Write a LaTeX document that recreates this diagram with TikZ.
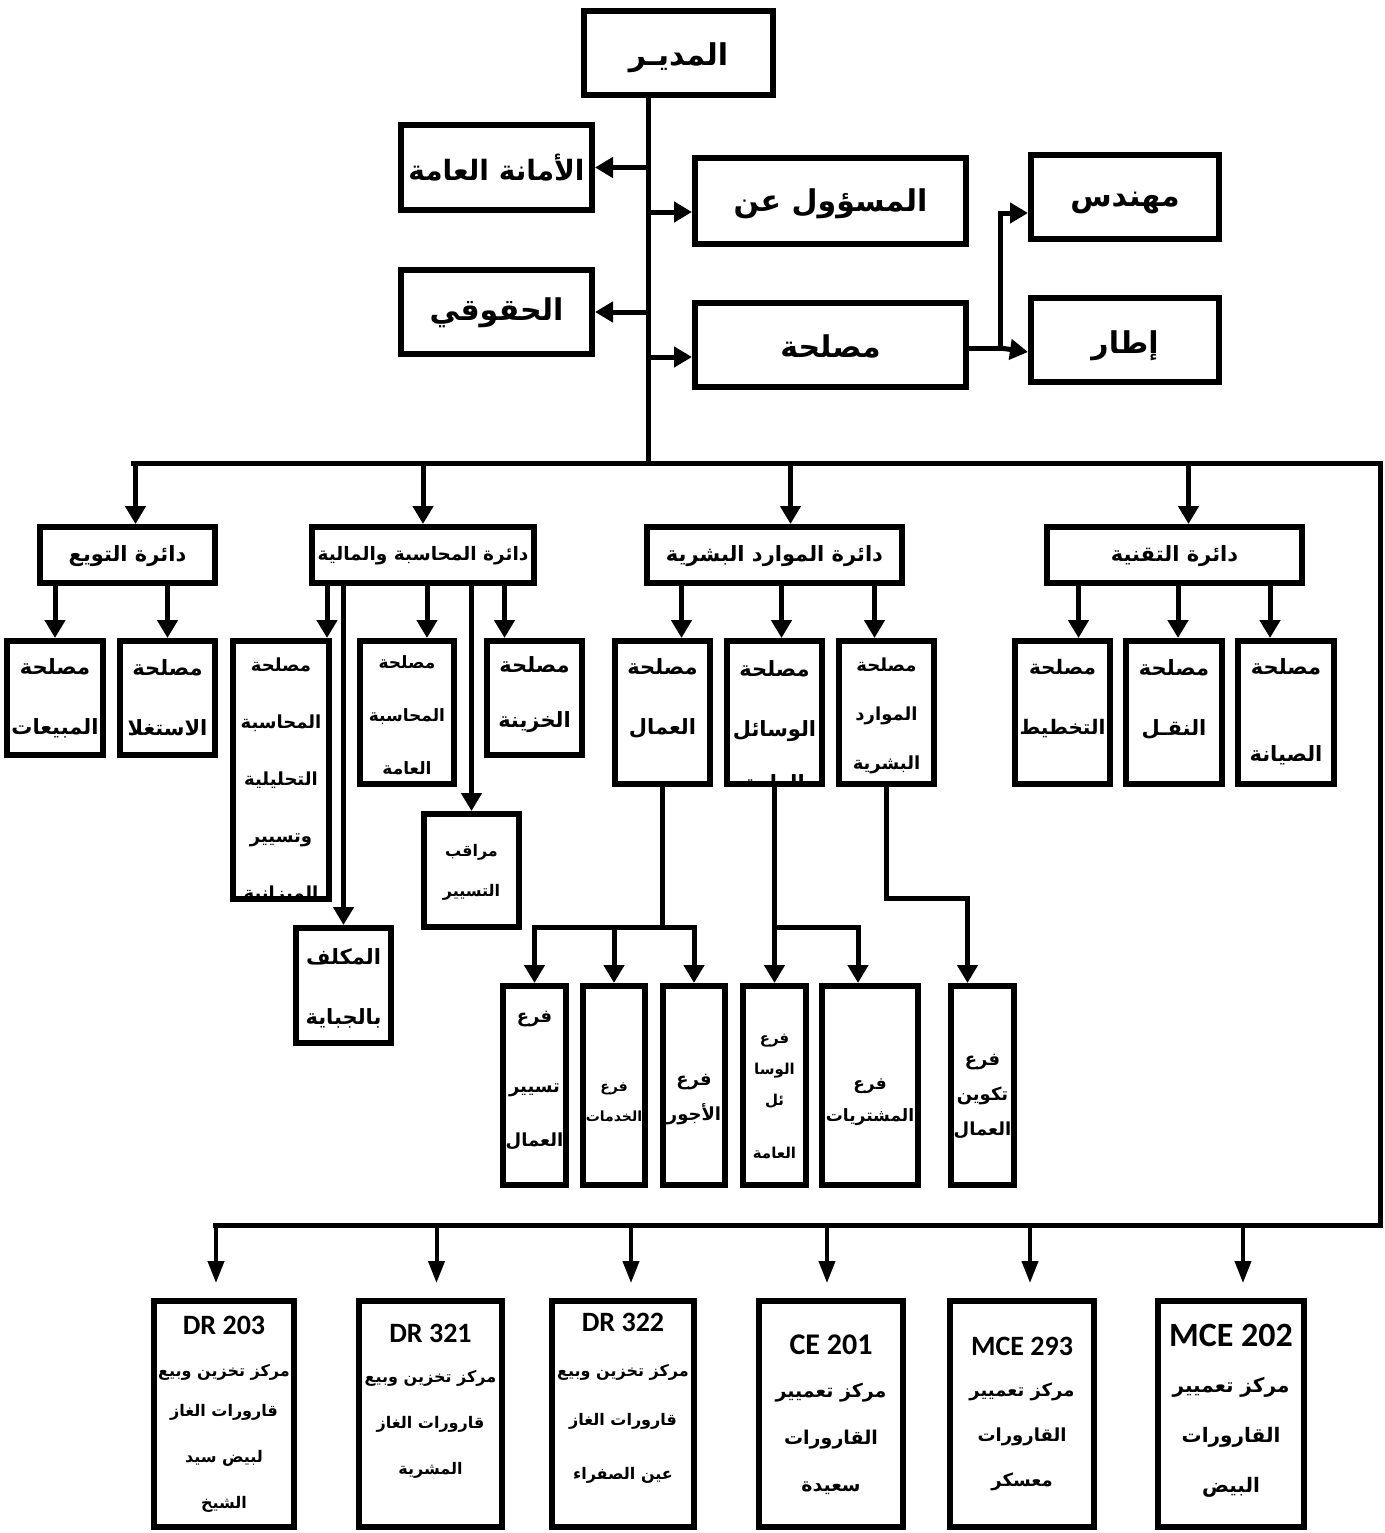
\documentclass[tikz,border=0pt]{standalone}
\usepackage{fontspec}
\usetikzlibrary{arrows.meta,calc}
\TeXXeTstate=1
\newfontfamily\arabicfont[Script=Arabic]{DejaVu Sans}
\newfontfamily\latinfont{Carlito}
\newcommand\rl[1]{\beginR#1\endR}
\newcommand\lt[2]{{\latinfont\bfseries\fontsize{#1}{#1}\selectfont #2}}
\tikzset{
 box/.style={draw, line width=6pt, fill=white, inner sep=0pt},
 txt/.style={align=center, inner sep=0pt, font=\arabicfont\bfseries},
 fs/.style 2 args={font=\arabicfont\bfseries\fontsize{#1}{#2}\selectfont},
 ln/.style={line width=5pt, line cap=rect},
 arr/.style={line width=5pt, line cap=rect, -{Triangle[length=18pt,width=20pt]}},
 thinarr/.style={line width=4pt, line cap=rect, -{Triangle[length=22pt,width=16pt]}, shorten >=15pt},
}
\newcommand\mkbox[8]{%
 \node[box,minimum width={#4-#2-6},minimum height={#5-#3-6}] (#1) at ({(#2+#4)/2},{(#3+#5)/2}) {};
 \node[txt,#7] (#1t) at ({(#2+#4)/2},#6) {#8};}
\newcommand\mkboxc[8]{%
 \node[box,minimum width={#4-#2-6},minimum height={#5-#3-6}] (#1) at ({(#2+#4)/2},{(#3+#5)/2}) {};
 \begin{scope}\clip ({#2+3},{#3+3}) rectangle ({#4-3},{#5-3});
 \node[txt,#7] (#1t) at ({(#2+#4)/2},#6) {#8};\end{scope}}
\begin{document}
\begin{tikzpicture}[x=1pt,y=-1pt]
\useasboundingbox[fill=white] (0,0) rectangle (1384,1533);
% ---------- top ----------
\mkbox{dir}{581}{8}{776}{98}{58}{fs={30}{36}}{\rl{المديـر}}
\mkbox{amana}{398}{122}{595}{213}{168}{fs={28}{34}}{\rl{الأمانة العامة}}
\mkbox{masoul}{692}{155}{969}{247}{204}{fs={30}{36}}{\rl{المسؤول عن}}
\mkbox{huquq}{398}{267}{595}{357}{313}{fs={30}{36}}{\rl{الحقوقي}}
\mkbox{maslaha}{692}{300}{969}{390}{346}{fs={30}{36}}{\rl{مصلحة}}
\mkbox{muhandis}{1028}{152}{1222}{242}{203}{fs={30}{36}}{\rl{مهندس}}
\mkbox{itar}{1028}{295}{1222}{385}{346}{fs={30}{36}}{\rl{إطار}}
% ---------- departments ----------
\mkbox{tawzi}{37}{524}{218}{586}{556}{fs={21}{26}}{\rl{دائرة التويع}}
\mkbox{muhasaba}{309}{524}{537}{586}{556}{fs={18.5}{26}}{\rl{دائرة المحاسبة والمالية}}
\mkbox{mawarid}{644}{524}{905}{586}{556}{fs={21}{26}}{\rl{دائرة الموارد البشرية}}
\mkbox{taqniya}{1044}{524}{1305}{586}{556}{fs={21}{26}}{\rl{دائرة التقنية}}
% ---------- services ----------
\mkbox{mabiat}{4}{638}{106}{758}{698}{fs={21}{60}}{\rl{مصلحة}\\\rl{المبيعات}}
\mkbox{istighla}{117}{638}{218}{758}{698}{fs={21}{60}}{\rl{مصلحة}\\\rl{الاستغلا}}
\mkboxc{tahlil}{230}{638}{332}{902}{781}{fs={18}{57}}{\rl{مصلحة}\\\rl{المحاسبة}\\\rl{التحليلية}\\\rl{وتسيير}\\\rl{الميزانية}}
\mkbox{amma}{357}{638}{457}{787}{715}{fs={17}{53}}{\rl{مصلحة}\\\rl{المحاسبة}\\\rl{العامة}}
\mkbox{khazina}{484}{638}{585}{758}{695}{fs={21}{55}}{\rl{مصلحة}\\\rl{الخزينة}}
\mkbox{muraqib}{421}{811}{522}{930}{872}{fs={16}{40}}{\rl{مراقب}\\\rl{التسيير}}
\mkbox{mukallaf}{293}{925}{394}{1046}{988}{fs={21}{60}}{\rl{المكلف}\\\rl{بالجباية}}
\mkbox{ummal}{612}{638}{713}{787}{698}{fs={21}{60}}{\rl{مصلحة}\\\rl{العمال}}
\mkboxc{wasail}{724}{638}{825}{787}{726}{fs={21}{60}}{\rl{مصلحة}\\\rl{الوسائل}\\[-6pt]\rl{العامة}}
\mkbox{bashari}{836}{638}{937}{787}{716}{fs={18}{49}}{\rl{مصلحة}\\\rl{الموارد}\\\rl{البشرية}}
\mkbox{takhtit}{1012}{638}{1113}{787}{699}{fs={20}{60}}{\rl{مصلحة}\\\rl{التخطيط}}
\mkbox{naql}{1123}{638}{1225}{787}{699}{fs={21}{60}}{\rl{مصلحة}\\\rl{النقـل}}
\mkbox{siyana}{1235}{638}{1337}{787}{712}{fs={21}{60}}{\rl{مصلحة}\\[27pt]\rl{الصيانة}}
% ---------- branches ----------
\mkbox{f1}{500}{983}{569}{1188}{1080}{fs={18}{54}}{\rl{فرع}\\[16pt]\rl{تسيير}\\\rl{العمال}}
\mkbox{f2}{580}{983}{648}{1188}{1102}{fs={14}{30}}{\rl{فرع}\\\rl{الخدمات}}
\mkbox{f3}{660}{983}{728}{1188}{1100}{fs={18}{35}}{\rl{فرع}\\\rl{الأجور}}
\mkbox{f4}{740}{983}{809}{1188}{1096}{fs={15}{31}}{\rl{فرع}\\\rl{الوسا}\\\rl{ئل}\\[22pt]\rl{العامة}}
\mkbox{f5}{819}{983}{921}{1188}{1102}{fs={17}{32}}{\rl{فرع}\\\rl{المشتريات}}
\mkbox{f6}{948}{983}{1017}{1188}{1096}{fs={18}{35}}{\rl{فرع}\\\rl{تكوين}\\\rl{العمال}}
% ---------- centres ----------
\mkbox{dra}{151}{1298}{297}{1530}{1414}{fs={16}{46}}{\lt{28}{DR 203}\\[-4pt]\rl{مركز تخزين وبيع}\\[-6pt]\rl{قارورات الغاز}\\\rl{لبيض سيد}\\\rl{الشيخ}}
\mkbox{drb}{356}{1298}{505}{1530}{1401}{fs={16}{46}}{\lt{28}{DR 321}\\[-6pt]\rl{مركز تخزين وبيع}\\\rl{قارورات الغاز}\\\rl{المشرية}}
\mkbox{drc}{549}{1298}{697}{1530}{1398}{fs={16}{49}}{\lt{28}{DR 322}\\[-4pt]\rl{مركز تخزين وبيع}\\\rl{قارورات الغاز}\\[5pt]\rl{عين الصفراء}}
\mkbox{ce}{756}{1298}{906}{1530}{1415}{fs={19}{47}}{\lt{30}{CE 201}\\[-4pt]\rl{مركز تعميير}\\\rl{القارورات}\\\rl{سعيدة}}
\mkbox{mcea}{947}{1298}{1097}{1530}{1414}{fs={18}{45}}{\lt{28}{MCE 293}\\[-4pt]\rl{مركز تعميير}\\\rl{القارورات}\\\rl{معسكر}}
\mkbox{mceb}{1155}{1298}{1307}{1530}{1411}{fs={20}{50}}{\lt{34}{MCE 202}\\[-4pt]\rl{مركز تعميير}\\\rl{القارورات}\\\rl{البيض}}
% ---------- connectors: top ----------
\coordinate (tk) at (648,463);
\draw[ln] (tk |- dir.south) -- (tk);
\draw[arr] (tk |- amana.east) -- (amana.east);
\draw[arr] (tk |- huquq.east) -- (huquq.east);
\coordinate (m1) at ([yshift=-11pt]masoul.west);
\draw[arr] (tk |- m1) -- (m1);
\coordinate (m2) at ([yshift=-12pt]maslaha.west);
\draw[arr] (tk |- m2) -- (m2);
\coordinate (j0) at ([yshift=-3pt]maslaha.east);
\coordinate (jx) at (1000,0);
\coordinate (e1) at ([yshift=-12pt]itar.west);
\coordinate (e2) at ([yshift=-16pt]muhandis.west);
\draw[ln] (j0) -- (jx |- j0);
\draw[arr] (jx |- j0) -- (e1);
\draw[arr] (jx |- j0) |- (e2);
% ---------- bus ----------
\coordinate (busL) at (133,463);
\coordinate (busR) at (1380,463);
\coordinate (bus2R) at (1380,1225);
\coordinate (bus2L) at (215,1225);
\draw[ln] (busL) -- (busR) -- (bus2R) -- (bus2L);
\coordinate (d1) at ([xshift=8pt]tawzi.north);
\coordinate (d3) at ([xshift=16pt]mawarid.north);
\coordinate (d4) at ([xshift=14pt]taqniya.north);
\draw[arr] (d1 |- busL) -- (d1);
\draw[arr] (muhasaba.north |- busL) -- (muhasaba.north);
\draw[arr] (d3 |- busL) -- (d3);
\draw[arr] (d4 |- busL) -- (d4);
% ---------- services ----------
\draw[arr] (mabiat.north |- tawzi.south) -- (mabiat.north);
\draw[arr] (istighla.north |- tawzi.south) -- (istighla.north);
\coordinate (s1) at ([xshift=-5pt]tahlil.north east);
\coordinate (s2) at ([xshift=20pt]amma.north);
\coordinate (s3) at ([xshift=-30pt]khazina.north);
\draw[arr] (s1 |- muhasaba.south) -- (s1);
\draw[arr] (mukallaf.north |- muhasaba.south) -- (mukallaf.north);
\draw[arr] (s2 |- muhasaba.south) -- (s2);
\draw[arr] (muraqib.north |- muhasaba.south) -- (muraqib.north);
\draw[arr] (s3 |- muhasaba.south) -- (s3);
\coordinate (r1) at ([xshift=19pt]ummal.north);
\coordinate (r2) at ([xshift=7pt]wasail.north);
\coordinate (r3) at ([xshift=-12pt]bashari.north);
\draw[arr] (r1 |- mawarid.south) -- (r1);
\draw[arr] (r2 |- mawarid.south) -- (r2);
\draw[arr] (r3 |- mawarid.south) -- (r3);
\coordinate (q1) at ([xshift=16pt]takhtit.north);
\coordinate (q2) at ([xshift=4pt]naql.north);
\coordinate (q3) at ([xshift=-16pt]siyana.north);
\draw[arr] (q1 |- taqniya.south) -- (q1);
\draw[arr] (q2 |- taqniya.south) -- (q2);
\draw[arr] (q3 |- taqniya.south) -- (q3);
% ---------- branches ----------
\coordinate (hb) at (0,927);
\coordinate (hc) at (0,898);
\draw[ln] (ummal.south) -- (ummal.south |- hb);
\draw[ln] (f1.north |- hb) -- (f3.north |- hb);
\draw[arr] (f1.north |- hb) -- (f1.north);
\draw[arr] (f2.north |- hb) -- (f2.north);
\draw[arr] (f3.north |- hb) -- (f3.north);
\coordinate (f5a) at ([xshift=-12pt]f5.north);
\draw[arr] (wasail.south) -- (f4.north);
\draw[ln] (wasail.south |- hb) -- (f5a |- hb);
\draw[arr] (f5a |- hb) -- (f5a);
\coordinate (f6a) at ([xshift=-15pt]f6.north);
\draw[arr] (bashari.south) -- (bashari.south |- hc) -| (f6a);
% ---------- centres ----------
\coordinate (c1) at ([xshift=-8pt]dra.north);
\coordinate (c2) at ([xshift=6pt]drb.north);
\coordinate (c3) at ([xshift=8pt]drc.north);
\coordinate (c4) at ([xshift=-4pt]ce.north);
\coordinate (c5) at ([xshift=8pt]mcea.north);
\coordinate (c6) at ([xshift=12pt]mceb.north);
\foreach \c in {c1,c2,c3,c4,c5,c6}{\draw[thinarr] (\c |- bus2L) -- (\c);}
\end{tikzpicture}
\end{document}
